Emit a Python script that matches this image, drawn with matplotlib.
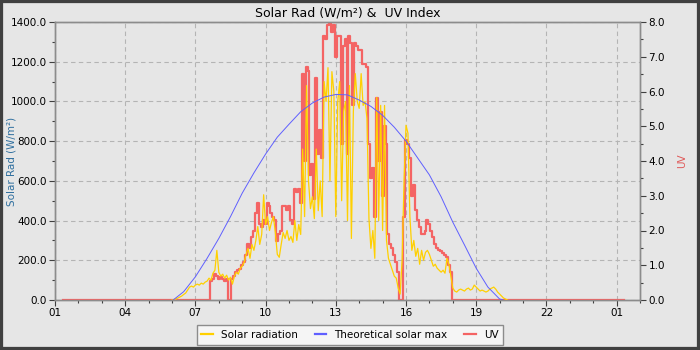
import numpy as np
import matplotlib
matplotlib.use('Agg')
import matplotlib.pyplot as plt
from matplotlib.ticker import MultipleLocator, FuncFormatter, FormatStrFormatter
from matplotlib.patches import Rectangle

# ---------------- data ----------------
day_start = 6.0          # first daytime sample (hour)
sample_step = 5 / 60.0   # 5-minute samples
record_start = 1 + 20 / 60.0   # 01:20
record_end = 25 + 20 / 60.0    # 01:20 next day

solar = [
    0, 2, 5, 10, 15, 20, 28, 35, 50, 65, 70, 65,                       # 06
    75, 80, 75, 85, 80, 90, 95, 110, 100, 135, 150, 250,               # 07
    140, 120, 130, 110, 125, 100, 115, 80, 120, 140, 130, 160,         # 08
    170, 190, 230, 260, 210, 280, 250, 300, 370, 280, 330, 530,        # 09
    380, 420, 350, 390, 420, 340, 230, 215, 280, 340, 310, 350,        # 10
    300, 320, 290, 400, 300, 380, 330, 760, 420, 1080, 600, 460,       # 11
    520, 410, 760, 450, 600, 420, 1100, 1000, 1170, 600, 1150, 1050,   # 12
    420, 1000, 1100, 500, 950, 1000, 400, 1080, 310, 950, 1140, 1000,  # 13
    965, 1140, 980, 1000, 915, 410, 260, 350, 210, 1020, 400, 980,     # 14
    350, 980, 300, 210, 180, 150, 120, 110, 60, 30, 200, 600,          # 15
    880, 840, 420, 250, 300, 220, 260, 180, 250, 200, 240, 250,        # 16
    230, 200, 170, 180, 160, 150, 140, 150, 135, 210, 180, 120,        # 17
    60, 45, 40, 50, 55, 50, 45, 55, 60, 50, 55, 75,                    # 18
    65, 55, 45, 50, 45, 40, 45, 55, 60, 65, 55, 40,                    # 19
    30, 20, 10, 5, 0,                                                  # 20
]

uv = [
    0, 0, 0, 0, 0, 0, 0, 0, 0, 0, 0, 0,                                # 06
    0, 0, 0, 0, 0, 0, 0, 0, 0.55, 0.6, 0.75, 0.7,                      # 07
    0.6, 0.65, 0.6, 0.55, 0.6, 0, 0, 0.6, 0.7, 0.8, 0.85, 0.9,         # 08
    1.0, 1.1, 1.3, 1.6, 1.5, 1.8, 2.0, 2.5, 2.8, 2.2, 2.1, 2.3,        # 09
    2.2, 2.8, 2.7, 2.5, 2.4, 2.3, 1.7, 1.9, 2.0, 2.7, 2.7, 2.6,        # 10
    2.7, 2.3, 2.2, 3.2, 3.1, 3.2, 2.8, 6.5, 4.0, 6.7, 6.6, 3.6,        # 11
    3.9, 2.9, 6.4, 4.2, 4.9, 4.1, 7.6, 7.5, 7.9, 8.0, 7.7, 7.9,        # 12
    7.0, 7.6, 7.6, 4.5, 7.3, 7.5, 4.2, 7.6, 7.4, 5.6, 7.4, 7.3,        # 13
    7.2, 7.2, 6.8, 6.8, 6.7, 4.5, 3.5, 3.8, 2.4, 5.8, 4.0, 5.4,        # 14
    3.0, 5.0, 4.5, 1.9, 1.6, 1.5, 1.3, 1.1, 0.8, 0, 0, 2.4,            # 15
    4.6, 4.5, 4.1, 3.0, 3.3, 2.6, 2.3, 2.1, 1.9, 1.9, 2.0, 2.3,        # 16
    2.2, 2.0, 1.8, 1.6, 1.5, 1.45, 1.4, 1.35, 1.3, 1.25, 1.0, 0.8,     # 17
    0, 0, 0, 0, 0, 0, 0, 0, 0, 0, 0, 0,                                # 18
    0, 0, 0, 0, 0, 0, 0, 0, 0, 0, 0, 0,                                # 19
    0, 0, 0, 0, 0, 0, 0,                                               # 20
]

theo_hours = [6.05, 6.5, 7, 7.5, 8, 8.5, 9, 9.5, 10, 10.5, 11, 11.5, 12, 12.5,
              13, 13.5, 14, 14.5, 15, 15.5, 16, 16.5, 17, 17.5, 18, 18.5, 19,
              19.5, 20, 20.15]
theo = [0, 42, 117, 210, 310, 420, 538, 640, 735, 820, 885, 948, 992, 1022,
        1035, 1033, 1007, 975, 930, 870, 800, 715, 630, 520, 392, 277, 160,
        65, 5, 0]

x_ticks = [1, 4, 7, 10, 13, 16, 19, 22, 25]

# ---------------- style ----------------
BG = '#e6e6e6'
C_SOLAR = '#ffd000'
C_THEO = '#5f5fff'
C_UV = '#f46464'
GRID = '#b4b4b4'
SPINE = '#8c8c8c'

t_solar = day_start + np.arange(len(solar)) * sample_step
t_uv = np.concatenate([[record_start], day_start + np.arange(len(uv)) * sample_step, [record_end]])
uv_full = np.concatenate([[0.0], np.array(uv, dtype=float), [0.0]])

fig = plt.figure(figsize=(7, 3.5), dpi=100, facecolor=BG)
rect = [55 / 700, 50 / 350, 585 / 700, 278 / 350]
ax0 = fig.add_axes(rect)
ax0.set_facecolor(BG)
ax2 = ax0.twinx()
ax3 = fig.add_axes(rect, sharex=ax0, sharey=ax0)
ax3.set_axis_off()
ax3.patch.set_visible(False)
ax2.patch.set_visible(False)
ax0.set_zorder(0)
ax2.set_zorder(1)
ax3.set_zorder(2)

# plots
l_uv, = ax2.plot(t_uv, uv_full, color=C_UV, lw=1.6, drawstyle='steps-mid', label='UV')
l_sol, = ax3.plot(t_solar, solar, color=C_SOLAR, lw=0.9, label='Solar radiation')
l_theo, = ax3.plot(theo_hours, theo, color=C_THEO, lw=0.7, label='Theoretical solar max')

ax0.set_xlim(1, 26)
ax0.set_ylim(0, 1400)
ax2.set_ylim(0, 8)

ax0.xaxis.set_major_locator(plt.FixedLocator(x_ticks))
ax0.xaxis.set_minor_locator(MultipleLocator(1))
ax0.xaxis.set_major_formatter(FuncFormatter(lambda v, p: '%02d' % (int(round(v)) % 24)))
ax0.yaxis.set_major_locator(MultipleLocator(200))
ax0.yaxis.set_minor_locator(MultipleLocator(100))
ax0.yaxis.set_major_formatter(FormatStrFormatter('%.1f'))
ax2.yaxis.set_major_locator(MultipleLocator(1))
ax2.yaxis.set_minor_locator(MultipleLocator(0.5))
ax2.yaxis.set_major_formatter(FormatStrFormatter('%.1f'))

ax0.grid(True, which='major', color=GRID, linestyle=(0, (4, 3)), linewidth=0.8)
ax0.set_axisbelow(True)

for a in (ax0, ax2):
    for s in a.spines.values():
        s.set_color(SPINE)
        s.set_linewidth(1.0)
    a.tick_params(which='major', length=4, width=0.8, color='#404040', labelsize=7.5, pad=2)
    a.tick_params(which='minor', length=2.5, width=0.8, color='#404040')

ax0.set_title('Solar Rad (W/m²) &  UV Index', fontsize=9, pad=4)
ax0.set_ylabel('Solar Rad (W/m²)', color='#2f6f9f', fontsize=7.5)
ax0.yaxis.set_label_coords(-0.066, 0.5)
ax2.set_ylabel('UV', color='#e05a5a', fontsize=7.5)
ax2.yaxis.set_label_coords(1.063, 0.5)

leg = fig.legend(handles=[l_sol, l_theo, l_uv], loc='lower center', bbox_to_anchor=(0.5, 0.0),
                 ncol=3, fontsize=7.5, frameon=True, fancybox=False, framealpha=1,
                 facecolor='#f5f5f5', edgecolor='#8c8c8c', handlelength=1.1,
                 handletextpad=0.8, columnspacing=1.6, borderpad=0.45)
for h in leg.legend_handles:
    h.set_linewidth(1.6)

fig.patches.append(Rectangle((0, 0), 1, 1, transform=fig.transFigure, fill=False,
                             edgecolor='#404040', linewidth=4.5, clip_on=False))

fig.savefig('out.png', dpi=100, facecolor=BG)
